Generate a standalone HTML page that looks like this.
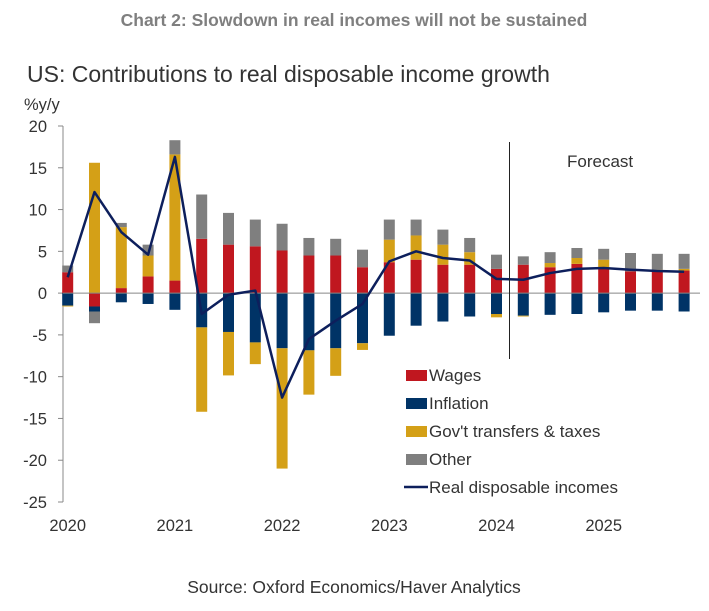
<!DOCTYPE html>
<html><head><meta charset="utf-8"><style>
body{margin:0;background:#fff;width:709px;height:606px;overflow:hidden;font-family:"Liberation Sans",sans-serif}
</style></head><body>
<svg id="c" width="709" height="606" font-family="Liberation Sans, sans-serif">
<text x="354" y="26" text-anchor="middle" font-size="17.5" font-weight="bold" fill="#7f7f7f">Chart 2: Slowdown in real incomes will not be sustained</text>
<text x="27" y="82" font-size="23" fill="#333">US: Contributions to real disposable income growth</text>
<text x="24" y="110" font-size="16.5" fill="#333">%y/y</text>
<text x="354" y="593" text-anchor="middle" font-size="17.5" fill="#333">Source: Oxford Economics/Haver Analytics</text>
<g id="plot"></g>
</svg>
<script>
const categories=["2020Q1","2020Q2","2020Q3","2020Q4","2021Q1","2021Q2","2021Q3","2021Q4","2022Q1","2022Q2","2022Q3","2022Q4","2023Q1","2023Q2","2023Q3","2023Q4","2024Q1","2024Q2","2024Q3","2024Q4","2025Q1","2025Q2","2025Q3","2025Q4"];
const wages=[2.5,-1.6,0.6,2.0,1.5,6.5,5.8,5.6,5.1,4.5,4.5,3.1,3.7,4.0,3.4,3.4,2.9,3.4,3.1,3.5,2.9,2.6,2.6,2.7];
const inflation=[-1.5,-0.6,-1.1,-1.3,-2.0,-4.1,-4.65,-5.9,-6.6,-6.85,-6.6,-6.0,-5.1,-3.9,-3.4,-2.8,-2.5,-2.7,-2.6,-2.5,-2.3,-2.1,-2.1,-2.2];
const transfers=[-0.1,15.6,7.3,2.5,15.1,-10.1,-5.2,-2.6,-14.4,-5.3,-3.3,-0.8,2.7,2.9,2.4,1.5,-0.4,-0.1,0.5,0.7,1.1,0,0.2,0.2];
const other=[0.8,-1.4,0.5,1.3,1.7,5.3,3.8,3.2,3.2,2.1,2.0,2.1,2.4,1.9,1.8,1.7,1.7,1.0,1.3,1.2,1.3,2.2,1.9,1.8];
const realIncome=[1.9,12.1,7.3,4.6,16.3,-2.5,-0.2,0.3,-12.5,-5.5,-3.3,-1.3,3.8,5.0,4.2,3.9,1.7,1.6,2.4,2.9,3.0,2.8,2.65,2.55];
const yTicks=[20,15,10,5,0,-5,-10,-15,-20,-25];
const yearLabels=["2020","2021","2022","2023","2024","2025"];
const NS="http://www.w3.org/2000/svg";
const g=document.getElementById('plot');
const y0=126,y1=502,vMax=20,vMin=-25;
function yS(v){return y0+(vMax-v)/(vMax-vMin)*(y1-y0);}
const xFirst=67.7,step=26.8;
function xS(i){return xFirst+i*step;}
function mk(t,a){const e=document.createElementNS(NS,t);for(const k in a)e.setAttribute(k,a[k]);g.appendChild(e);return e;}
let ax=mk('line',{x1:63,x2:63,y1:y0,y2:y1,stroke:'#888','stroke-width':1});


yTicks.forEach(v=>{
 let t=mk('line',{x1:58,x2:63,y1:yS(v),y2:yS(v),stroke:'#888'});
 
 
 let l=mk('text',{x:47,y:yS(v)+6,'text-anchor':'end','font-size':16.5,fill:'#333'});
 l.textContent=v;
 
 
});
yearLabels.forEach((y,k)=>{
 let l=mk('text',{x:xS(k*4),y:531,'text-anchor':'middle','font-size':16.5,fill:'#333'});
 l.textContent=y;
 
 
});
const series=[[wages,'#c0171f','wages'],[inflation,'#003366','inflation'],[transfers,'#d4a017','transfers'],[other,'#7f7f7f','other']];
categories.forEach((c,i)=>{
 let pos=0,neg=0;
 series.forEach(([arr,col,nm])=>{
  const v=arr[i];if(!v)return;
  let a,b;
  if(v>0){a=pos;b=pos+v;pos=b;}else{a=neg;b=neg+v;neg=b;}
  const top=yS(Math.max(a,b)),bot=yS(Math.min(a,b));
  let r=mk('rect',{x:xS(i)-5.5,y:top,width:11,height:bot-top,fill:col});
  
  
 });
});
let z=mk('line',{x1:63,x2:700,y1:yS(0),y2:yS(0),stroke:'#888','stroke-width':1});


let p=mk('polyline',{points:realIncome.map((v,i)=>xS(i)+','+yS(v)).join(' '),fill:'none',stroke:'#0d1f5c','stroke-width':2.5,'stroke-linejoin':'round'});


let f=mk('line',{x1:509.5,x2:509.5,y1:142,y2:359,stroke:'#222','stroke-width':1});


let ft=mk('text',{x:567,y:167,'font-size':17,fill:'#333'});ft.textContent='Forecast';


const legend=[['Wages','#c0171f'],['Inflation','#003366'],["Gov't transfers & taxes",'#d4a017'],['Other','#7f7f7f'],['Real disposable incomes','#0d1f5c']];
legend.forEach(([n,col],k)=>{
 const yy=375+k*28;
 let s;
 if(k<4){s=mk('rect',{x:406,y:yy-5,width:21,height:11,fill:col});}
 else{s=mk('line',{x1:404,x2:428,y1:yy,y2:yy,stroke:col,'stroke-width':2.5});}
 
 
 let t=mk('text',{x:429,y:yy+6,'font-size':17,fill:'#333'});t.textContent=n;
 
 
});
</script>
</body></html>
